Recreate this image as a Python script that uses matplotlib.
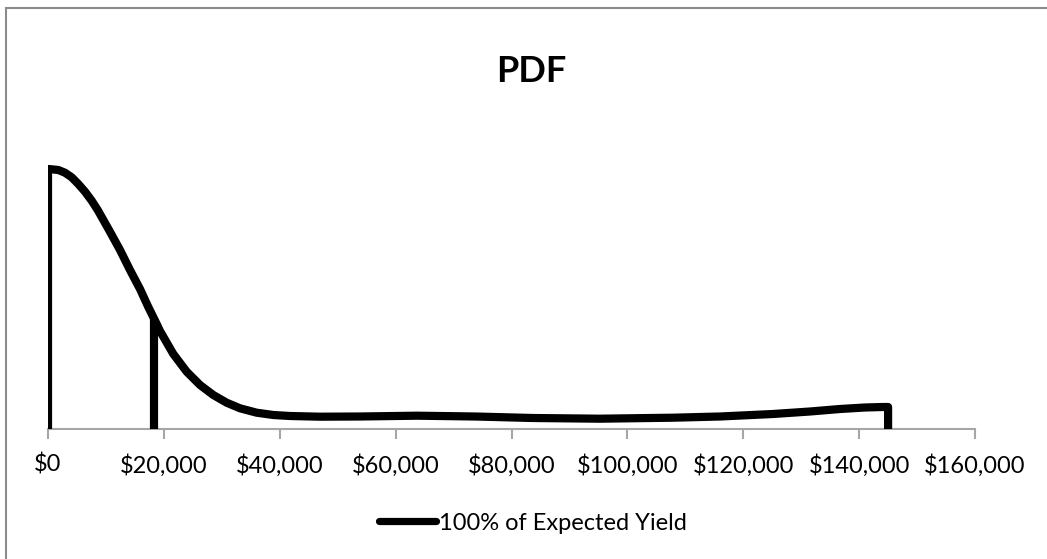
import matplotlib
matplotlib.use("Agg")
import matplotlib.pyplot as plt
from matplotlib.patches import Rectangle
from matplotlib.lines import Line2D

plt.rcParams["font.family"] = ["Lato", "DejaVu Sans"]

# yield value ($) and probability density (arbitrary units)
yield_usd = [0, 0, 640, 1780, 2930, 4090, 5230, 6390, 7540, 8580, 10530,
             12430, 14150, 15880, 17310, 18760, 19330, 21630, 23940, 26240,
             28530, 30840, 33140, 36020, 38890, 41770, 46950, 53850, 63690,
             73700, 83710, 95270, 107880, 115990, 125130, 131520, 136700,
             141010, 144120, 145000, 145000]
density = [0, 2.60, 2.597, 2.59, 2.563, 2.517, 2.45, 2.373, 2.283, 2.19, 1.99,
           1.79, 1.59, 1.40, 1.22, 1.05, 0.98, 0.75, 0.573, 0.44,
           0.34, 0.263, 0.207, 0.163, 0.14, 0.13, 0.123, 0.125, 0.133,
           0.125, 0.11, 0.103, 0.113, 0.125, 0.15, 0.175, 0.20,
           0.215, 0.22, 0.22, 0]

marker_x = 18300
marker_y = 1.10

xticks = [0, 20000, 40000, 60000, 80000, 100000, 120000, 140000, 160000]
xtick_labels = ["$0", "$20,000", "$40,000", "$60,000", "$80,000", "$100,000",
                "$120,000", "$140,000", "$160,000"]

fig = plt.figure(figsize=(10.47, 5.59), dpi=100)
ax = fig.add_axes([48 / 1047, 130 / 559, 927 / 1047, 300 / 559])

lw = 5.9
ax.plot(yield_usd, density, color="black", lw=lw, solid_joinstyle="round",
        solid_capstyle="butt")
ax.plot([marker_x, marker_x], [0, marker_y], color="black", lw=lw,
        solid_capstyle="butt", zorder=1.9)

ax.set_xlim(0, 160000)
ax.set_ylim(0, 3.0)
ax.set_xticks(xticks)
ax.set_xticklabels(xtick_labels, fontsize=17)
ax.set_yticks([])
for s in ["top", "right", "left"]:
    ax.spines[s].set_visible(False)
ax.spines["bottom"].set_color("#a6a6a6")
ax.spines["bottom"].set_linewidth(1.5)
ax.spines["bottom"].set_zorder(0.5)
ax.tick_params(axis="x", direction="out", length=7, width=1.5, color="#a6a6a6",
               pad=11, labelcolor="black")

fig.text(531 / 1047, (559 - 82) / 559, "PDF", ha="center", va="baseline",
         fontsize=26, fontweight="bold")

handle = Line2D([], [], color="black", lw=5.2, solid_capstyle="round")
fig.legend([handle], ["100% of Expected Yield"], loc="center",
           bbox_to_anchor=(533 / 1047, (559 - 523) / 559), frameon=False,
           fontsize=17, handlelength=2.4, handletextpad=0.13)

fig.add_artist(Rectangle((6 / 1047, -0.05), 1.1, (559 - 8) / 559 + 0.05,
                         transform=fig.transFigure, fill=False,
                         edgecolor="#8c8c8c", lw=1.5))

fig.savefig("out.png", dpi=100)
